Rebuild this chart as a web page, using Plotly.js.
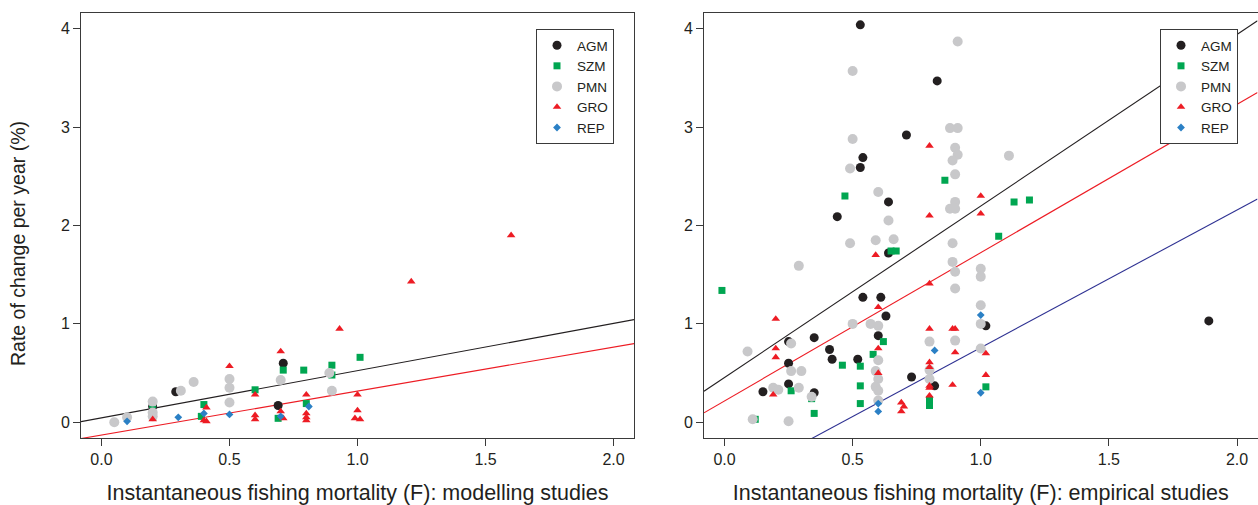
<!DOCTYPE html>
<html>
<head>
<meta charset="utf-8">
<script src="https://cdn.plot.ly/plotly-3.0.1.min.js"></script>
<style>html,body{margin:0;padding:0;background:#fff;}#chart{width:1258px;height:505px;}</style>
</head>
<body>
<div id="chart"></div>
<script>
// ---------- Data ----------
const groups = ['AGM', 'SZM', 'PMN', 'GRO', 'REP'];
const xTickVals = [0, 0.5, 1, 1.5, 2];
const xTickText = ['0.0', '0.5', '1.0', '1.5', '2.0'];
const yTickVals = [0, 1, 2, 3, 4];
const yTickText = ['0', '1', '2', '3', '4'];
const yTitleText = 'Rate of change per year (%)';
const xTitleLeft = 'Instantaneous fishing mortality (F): modelling studies';
const xTitleRight = 'Instantaneous fishing mortality (F): empirical studies';

// Modelling studies (left panel)
const modAGM_x = [0.2, 0.29, 0.69, 0.71];
const modAGM_y = [0.16, 0.31, 0.17, 0.60];
const modSZM_x = [0.2, 0.2, 0.39, 0.4, 0.6, 0.69, 0.71, 0.79, 0.8, 0.9, 0.9, 1.01];
const modSZM_y = [0.18, 0.05, 0.06, 0.18, 0.33, 0.04, 0.53, 0.53, 0.19, 0.58, 0.48, 0.66];
const modPMN_x = [0.05, 0.1, 0.2, 0.2, 0.2, 0.31, 0.36, 0.5, 0.5, 0.5, 0.7, 0.89, 0.9];
const modPMN_y = [0.0, 0.05, 0.21, 0.1, 0.06, 0.32, 0.41, 0.44, 0.35, 0.2, 0.43, 0.5, 0.32];
const modGRO_x = [0.2, 0.41, 0.4, 0.41, 0.5, 0.6, 0.6, 0.6, 0.7, 0.7, 0.71, 0.8, 0.8, 0.8, 0.8, 0.93, 1.0, 1.0, 0.99, 1.01, 1.21, 1.6];
const modGRO_y = [0.03, 0.15, 0.02, 0.01, 0.57, 0.28, 0.07, 0.03, 0.72, 0.11, 0.04, 0.28, 0.09, 0.05, 0.02, 0.95, 0.28, 0.12, 0.04, 0.03, 1.43, 1.9];
const modREP_x = [0.1, 0.3, 0.4, 0.5, 0.7, 0.81];
const modREP_y = [0.01, 0.05, 0.09, 0.08, 0.06, 0.16];
// fitted lines (intercept, slope): all, growth
const modFitIntercept = [0.045, -0.13];
const modFitSlope = [0.48, 0.447];
const modFitColor = ['#231f20', '#ed1c24'];

// Empirical studies (right panel)
const empAGM_x = [0.53, 0.83, 0.71, 0.54, 0.53, 0.64, 0.44, 0.64, 0.54, 0.61, 0.63, 1.02, 0.35, 0.6, 0.25, 0.41, 0.42, 0.52, 0.25, 0.73, 0.25, 0.82, 0.15, 0.35, 1.89];
const empAGM_y = [4.04, 3.47, 2.92, 2.69, 2.59, 2.24, 2.09, 1.72, 1.27, 1.27, 1.08, 0.98, 0.86, 0.88, 0.82, 0.74, 0.64, 0.64, 0.6, 0.46, 0.39, 0.37, 0.31, 0.3, 1.03];
const empSZM_x = [0.86, 0.47, 1.13, 1.19, 1.07, 0.65, 0.67, -0.01, 0.62, 0.58, 0.46, 0.53, 0.53, 1.02, 0.26, 0.34, 0.8, 0.8, 0.53, 0.35, 0.12];
const empSZM_y = [2.46, 2.3, 2.24, 2.26, 1.89, 1.74, 1.74, 1.34, 0.82, 0.69, 0.58, 0.57, 0.37, 0.36, 0.32, 0.24, 0.23, 0.17, 0.19, 0.09, 0.03];
const empPMN_x = [0.91, 0.5, 0.88, 0.91, 0.5, 0.9, 0.91, 0.89, 0.49, 0.9, 1.11, 0.6, 0.9, 0.9, 0.88, 0.64, 0.49, 0.59, 0.66, 0.89, 0.89, 0.9, 1.0, 1.0, 0.29, 0.9, 1.0, 1.0, 0.5, 0.57, 0.6, 0.26, 0.8, 0.9, 1.0, 0.09, 0.6, 0.26, 0.3, 0.59, 0.8, 0.6, 0.8, 0.59, 0.6, 0.29, 0.19, 0.21, 0.34, 0.6, 0.11, 0.25];
const empPMN_y = [3.87, 3.57, 2.99, 2.99, 2.88, 2.79, 2.72, 2.66, 2.58, 2.52, 2.71, 2.34, 2.24, 2.17, 2.17, 2.05, 1.82, 1.85, 1.86, 1.82, 1.63, 1.53, 1.56, 1.48, 1.59, 1.36, 1.19, 1.0, 1.0, 1.0, 0.98, 0.8, 0.82, 0.83, 0.75, 0.72, 0.63, 0.52, 0.52, 0.52, 0.53, 0.44, 0.44, 0.36, 0.32, 0.35, 0.35, 0.33, 0.26, 0.22, 0.03, 0.01];
const empGRO_x = [0.8, 0.8, 1.0, 1.0, 0.59, 0.8, 0.6, 0.2, 0.8, 0.89, 0.9, 0.2, 0.6, 0.2, 0.9, 1.02, 0.8, 0.8, 0.6, 1.02, 0.8, 0.8, 0.89, 0.19, 0.8, 0.69, 0.7, 0.69];
const empGRO_y = [2.81, 2.1, 2.3, 2.12, 1.7, 1.41, 1.17, 1.05, 0.95, 0.95, 0.95, 0.75, 0.75, 0.66, 0.71, 0.7, 0.61, 0.56, 0.5, 0.48, 0.37, 0.35, 0.38, 0.28, 0.27, 0.2, 0.16, 0.11];
const empREP_x = [1.0, 0.82, 1.0, 0.6, 0.6];
const empREP_y = [1.09, 0.73, 0.3, 0.19, 0.11];
// fitted lines (intercept, slope): all, growth, reproduction
const empFitIntercept = [0.455, 0.217, -0.642];
const empFitSlope = [1.743, 1.507, 1.40];
const empFitColor = ['#231f20', '#ed1c24', '#2e3192'];

// ---------- Styles ----------
const xRange = [-0.08, 2.08];
const yRange = [-0.16, 4.16];
const style = {
  AGM: {color: '#231f20', symbol: 'circle', size: 9},
  SZM: {color: '#00a651', symbol: 'square', size: 7},
  PMN: {color: '#c8c8ca', symbol: 'circle', size: 10},
  GRO: {color: '#ed1c24', symbol: 'triangle-up', size: 7.5},
  REP: {color: '#2b80c5', symbol: 'diamond', size: 6}
};
const FONT = 'Liberation Sans, Arial, Helvetica, sans-serif';

const modData = {AGM: [modAGM_x, modAGM_y], SZM: [modSZM_x, modSZM_y], PMN: [modPMN_x, modPMN_y], GRO: [modGRO_x, modGRO_y], REP: [modREP_x, modREP_y]};
const empData = {AGM: [empAGM_x, empAGM_y], SZM: [empSZM_x, empSZM_y], PMN: [empPMN_x, empPMN_y], GRO: [empGRO_x, empGRO_y], REP: [empREP_x, empREP_y]};

const traces = [];
function addLines(intercepts, slopes, colors, xa, ya) {
  intercepts.forEach((a, i) => {
    traces.push({
      x: xRange, y: xRange.map(v => a + slopes[i] * v),
      mode: 'lines', line: {color: colors[i], width: 1.1},
      xaxis: xa, yaxis: ya, showlegend: false, hoverinfo: 'skip'
    });
  });
}
addLines(modFitIntercept, modFitSlope, modFitColor, 'x', 'y');
addLines(empFitIntercept, empFitSlope, empFitColor, 'x2', 'y2');

function addPoints(data, xa, ya, legendId) {
  groups.forEach(g => {
    const s = style[g];
    traces.push({
      x: data[g][0], y: data[g][1], name: g, type: 'scatter', mode: 'markers',
      marker: {color: s.color, symbol: s.symbol, size: s.size, line: {width: 0}},
      xaxis: xa, yaxis: ya, legend: legendId, cliponaxis: true
    });
  });
}
addPoints(modData, 'x', 'y', 'legend');
addPoints(empData, 'x2', 'y2', 'legend2');

const W = 1258, H = 505;
function axisCommon() {
  return {
    showgrid: false, zeroline: false, showline: true, mirror: true,
    linecolor: '#3a3a3a', linewidth: 1,
    ticks: 'outside', ticklen: 7, tickwidth: 1, tickcolor: '#3a3a3a',
    tickfont: {family: FONT, size: 16, color: '#231f20'},
    automargin: false, fixedrange: true
  };
}
const xDomL = [81 / W, 634 / W];
const xDomR = [704 / W, 1257.5 / W];
const yDom = [(H - 438) / H, (H - 13) / H];

const legendCommon = {
  bgcolor: '#ffffff', bordercolor: '#3a3a3a', borderwidth: 1,
  font: {family: FONT, size: 13.5, color: '#231f20'},
  xanchor: 'left', yanchor: 'top', tracegroupgap: 0, itemwidth: 30
};
const xTitleFont = {family: FONT, size: 21.5, color: '#231f20'};

const layout = {
  width: W, height: H,
  margin: {l: 0, r: 0, t: 0, b: 0},
  paper_bgcolor: '#ffffff', plot_bgcolor: '#ffffff',
  font: {family: FONT, color: '#231f20'},
  showlegend: true,
  xaxis: Object.assign(axisCommon(), {
    domain: xDomL, range: xRange, anchor: 'y',
    tickvals: xTickVals, ticktext: xTickText,
    title: {text: xTitleLeft, font: xTitleFont, standoff: 20}
  }),
  yaxis: Object.assign(axisCommon(), {
    domain: yDom, range: yRange, anchor: 'x',
    tickvals: yTickVals, ticktext: yTickText
  }),
  xaxis2: Object.assign(axisCommon(), {
    domain: xDomR, range: xRange, anchor: 'y2',
    tickvals: xTickVals, ticktext: xTickText,
    title: {text: xTitleRight, font: xTitleFont, standoff: 20}
  }),
  yaxis2: Object.assign(axisCommon(), {
    domain: yDom, range: yRange, anchor: 'x2',
    tickvals: yTickVals, ticktext: yTickText
  }),
  annotations: [{
    text: yTitleText, textangle: -90, showarrow: false,
    xref: 'paper', yref: 'paper', x: 18 / W, y: 1 - 244 / H,
    xanchor: 'center', yanchor: 'middle',
    font: {family: FONT, size: 19.5, color: '#231f20'}
  }],
  legend: Object.assign({}, legendCommon, {x: 536 / W, y: 1 - 29 / H}),
  legend2: Object.assign({}, legendCommon, {x: 1160 / W, y: 1 - 29 / H})
};

Plotly.newPlot('chart', traces, layout, {displayModeBar: false, staticPlot: true});
</script>
</body>
</html>
